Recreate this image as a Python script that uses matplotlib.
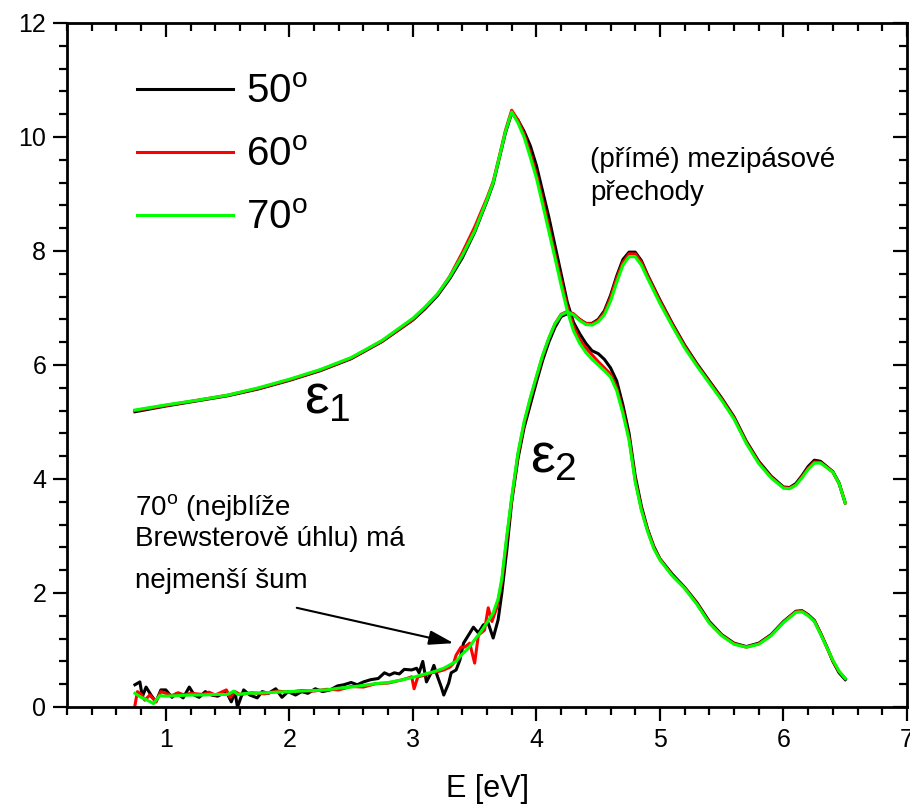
import matplotlib
matplotlib.use("Agg")
import matplotlib.pyplot as plt
import numpy as np

plt.rcParams['font.family'] = ['Liberation Sans', 'DejaVu Sans']
plt.rcParams['mathtext.fontset'] = 'custom'
plt.rcParams['mathtext.rm'] = 'Liberation Sans'
plt.rcParams['mathtext.it'] = 'Liberation Sans'
plt.rcParams['mathtext.bf'] = 'Liberation Sans:bold'

# eps1 - spolecna mrizka energii
e1_E = [0.75, 1.0, 1.25, 1.5, 1.75, 2.0, 2.25, 2.5, 2.75, 3.0,
        3.1, 3.2, 3.3, 3.4, 3.5, 3.6, 3.65, 3.7, 3.75, 3.8,
        3.85, 3.9, 3.95, 4.0, 4.05, 4.1, 4.15, 4.2, 4.25, 4.3,
        4.35, 4.4, 4.45, 4.5, 4.55, 4.6, 4.65, 4.7, 4.75, 4.8,
        4.85, 4.9, 4.95, 5.0, 5.1, 5.2, 5.3, 5.4, 5.5, 5.6,
        5.7, 5.8, 5.9, 6.0, 6.1, 6.15, 6.2, 6.25, 6.3, 6.35,
        6.4, 6.45, 6.5]
e1_70 = [5.21, 5.30, 5.38, 5.47, 5.60, 5.75, 5.92, 6.13, 6.43, 6.82,
         7.02, 7.25, 7.55, 7.92, 8.35, 8.90, 9.20, 9.65, 10.10, 10.44,
         10.25, 10.00, 9.65, 9.28, 8.82, 8.35, 7.88, 7.40, 6.95, 6.60,
         6.38, 6.22, 6.10, 6.00, 5.90, 5.79, 5.55, 5.15, 4.68, 3.95,
         3.45, 3.08, 2.78, 2.58, 2.30, 2.08, 1.80, 1.47, 1.25, 1.10,
         1.05, 1.10, 1.25, 1.48, 1.66, 1.67, 1.60, 1.50, 1.28, 1.05,
         0.82, 0.63, 0.50]
e1_60 = [5.20, 5.29, 5.38, 5.47, 5.59, 5.74, 5.91, 6.12, 6.42, 6.80,
         7.01, 7.24, 7.56, 7.97, 8.42, 8.93, 9.22, 9.66, 10.12, 10.47,
         10.30, 10.05, 9.72, 9.35, 8.90, 8.43, 7.95, 7.48, 7.02, 6.68,
         6.45, 6.30, 6.18, 6.06, 5.95, 5.84, 5.60, 5.20, 4.72, 3.98,
         3.47, 3.10, 2.80, 2.59, 2.31, 2.09, 1.81, 1.48, 1.26, 1.11,
         1.05, 1.11, 1.26, 1.49, 1.67, 1.68, 1.61, 1.51, 1.29, 1.05,
         0.81, 0.62, 0.50]
e1_50 = [5.18, 5.28, 5.37, 5.46, 5.58, 5.73, 5.90, 6.11, 6.41, 6.79,
         6.99, 7.22, 7.52, 7.88, 8.33, 8.88, 9.18, 9.63, 10.08, 10.42,
         10.30, 10.10, 9.85, 9.50, 9.05, 8.60, 8.10, 7.60, 7.10, 6.75,
         6.55, 6.38, 6.25, 6.20, 6.10, 5.95, 5.72, 5.30, 4.80, 4.05,
         3.52, 3.12, 2.82, 2.60, 2.33, 2.10, 1.83, 1.50, 1.27, 1.12,
         1.06, 1.12, 1.27, 1.50, 1.68, 1.69, 1.62, 1.52, 1.30, 1.06,
         0.80, 0.60, 0.48]

# eps2 - nizke energie (sum)
e2lo_E_70 = [0.75, 0.8, 0.85, 0.9, 0.95, 1.0, 1.1, 1.2, 1.3, 1.4,
             1.5, 1.55, 1.58, 1.65, 1.8, 1.9, 2.0, 2.1, 2.2, 2.3,
             2.4, 2.5, 2.6, 2.7, 2.8, 2.9, 3.0, 3.1, 3.17, 3.25,
             3.3, 3.35, 3.4, 3.45, 3.5, 3.55, 3.6, 3.65, 3.69]
e2lo_70 = [0.24, 0.17, 0.12, 0.06, 0.20, 0.19, 0.20, 0.21, 0.21, 0.22,
           0.22, 0.28, 0.22, 0.24, 0.25, 0.26, 0.27, 0.28, 0.29, 0.30,
           0.33, 0.35, 0.38, 0.41, 0.43, 0.47, 0.52, 0.58, 0.62, 0.68,
           0.74, 0.80, 0.93, 1.03, 1.18, 1.32, 1.48, 1.65, 1.90]
e2lo_E_60 = [0.75, 0.77, 0.8, 0.83, 0.87, 0.92, 0.96, 1.0, 1.05, 1.1,
             1.15, 1.2, 1.3, 1.35, 1.4, 1.49, 1.52, 1.56, 1.6, 1.7,
             1.8, 1.9, 2.0, 2.1, 2.2, 2.3, 2.4, 2.5, 2.6, 2.7,
             2.8, 2.9, 2.95, 2.99, 3.01, 3.04, 3.1, 3.15, 3.2, 3.25,
             3.3, 3.33, 3.35, 3.39, 3.42, 3.46, 3.5, 3.53, 3.58, 3.61,
             3.64, 3.68]
e2lo_60 = [0.03, 0.27, 0.22, 0.12, 0.21, 0.09, 0.27, 0.24, 0.20, 0.25,
           0.21, 0.24, 0.22, 0.26, 0.21, 0.30, 0.17, 0.27, 0.22, 0.25,
           0.23, 0.28, 0.26, 0.29, 0.28, 0.31, 0.30, 0.36, 0.35, 0.41,
           0.42, 0.47, 0.50, 0.53, 0.32, 0.53, 0.56, 0.60, 0.62, 0.65,
           0.70, 0.77, 0.91, 1.05, 1.05, 1.12, 0.77, 1.26, 1.35, 1.74,
           1.50, 1.75]
e2lo_E_50 = [0.75, 0.79, 0.81, 0.84, 0.88, 0.92, 0.96, 1.0, 1.05, 1.09,
             1.14, 1.19, 1.23, 1.27, 1.32, 1.37, 1.42, 1.49, 1.53, 1.56,
             1.58, 1.63, 1.68, 1.74, 1.78, 1.83, 1.89, 1.94, 1.99, 2.05,
             2.10, 2.15, 2.21, 2.27, 2.33, 2.39, 2.44, 2.50, 2.55, 2.60,
             2.66, 2.72, 2.77, 2.81, 2.85, 2.89, 2.93, 2.99, 3.03, 3.05,
             3.08, 3.11, 3.15, 3.17, 3.20, 3.23, 3.25, 3.29, 3.31, 3.35,
             3.38, 3.41, 3.45, 3.49, 3.53, 3.57, 3.61, 3.65, 3.69]
e2lo_50 = [0.39, 0.44, 0.18, 0.35, 0.21, 0.09, 0.30, 0.30, 0.17, 0.24,
           0.16, 0.35, 0.21, 0.17, 0.27, 0.21, 0.19, 0.27, 0.09, 0.26,
           0.00, 0.30, 0.21, 0.16, 0.27, 0.24, 0.32, 0.17, 0.27, 0.21,
           0.27, 0.24, 0.32, 0.27, 0.30, 0.37, 0.39, 0.43, 0.39, 0.44,
           0.48, 0.50, 0.60, 0.56, 0.60, 0.58, 0.66, 0.65, 0.68, 0.60,
           0.80, 0.44, 0.61, 0.73, 0.53, 0.35, 0.21, 0.42, 0.60, 0.65,
           0.82, 1.12, 1.26, 1.40, 1.30, 1.44, 1.47, 1.21, 1.53]

# eps2 - vysoke energie
e2hi_E = [3.72, 3.76, 3.8, 3.85, 3.9, 3.95, 4.0, 4.05, 4.1, 4.15,
          4.2, 4.25, 4.3, 4.35, 4.4, 4.45, 4.5, 4.55, 4.6, 4.65,
          4.7, 4.75, 4.8, 4.85, 4.9, 5.0, 5.1, 5.2, 5.3, 5.4,
          5.5, 5.6, 5.7, 5.8, 5.9, 6.0, 6.05, 6.1, 6.15, 6.2,
          6.25, 6.3, 6.35, 6.4, 6.45, 6.5]
e2hi_70 = [2.25, 3.00, 3.68, 4.45, 5.00, 5.42, 5.80, 6.17, 6.47, 6.72,
           6.88, 6.93, 6.88, 6.78, 6.71, 6.70, 6.76, 6.88, 7.12, 7.45,
           7.75, 7.90, 7.90, 7.75, 7.52, 7.08, 6.68, 6.30, 5.98, 5.68,
           5.38, 5.05, 4.62, 4.27, 4.02, 3.84, 3.83, 3.89, 4.02, 4.17,
           4.28, 4.28, 4.20, 4.12, 3.92, 3.58]
e2hi_60 = [2.20, 2.95, 3.65, 4.42, 4.97, 5.40, 5.78, 6.15, 6.46, 6.72,
           6.89, 6.94, 6.90, 6.80, 6.73, 6.72, 6.78, 6.92, 7.18, 7.52,
           7.80, 7.95, 7.95, 7.80, 7.56, 7.12, 6.71, 6.33, 6.00, 5.70,
           5.40, 5.07, 4.64, 4.29, 4.03, 3.85, 3.84, 3.90, 4.04, 4.19,
           4.30, 4.29, 4.21, 4.12, 3.92, 3.58]
e2hi_50 = [2.00, 2.75, 3.60, 4.35, 4.90, 5.30, 5.70, 6.08, 6.40, 6.66,
           6.85, 6.90, 6.88, 6.80, 6.73, 6.73, 6.80, 6.95, 7.22, 7.56,
           7.85, 7.98, 7.98, 7.83, 7.58, 7.14, 6.73, 6.35, 6.02, 5.72,
           5.42, 5.09, 4.66, 4.31, 4.05, 3.86, 3.85, 3.92, 4.06, 4.22,
           4.33, 4.31, 4.22, 4.13, 3.93, 3.58]

angles = ['50', '60', '70']
colors = ['#000000', '#ff0000', '#00ff00']
e1_all = [e1_50, e1_60, e1_70]
e2_E_all = [e2lo_E_50 + e2hi_E, e2lo_E_60 + e2hi_E, e2lo_E_70 + e2hi_E]
e2_all = [e2lo_50 + e2hi_50, e2lo_60 + e2hi_60, e2lo_70 + e2hi_70]

fig = plt.figure(figsize=(9.1, 8.07), dpi=100)
ax = fig.add_axes([67/910, 1 - 707/807, 840/910, 684/807])

handles = []
for a, c, y1, x2, y2 in zip(angles, colors, e1_all, e2_E_all, e2_all):
    h, = ax.plot(e1_E, y1, color=c, lw=2.2, label=a + r'$^{\mathrm{o}}$')
    ax.plot(x2, y2, color=c, lw=2.2)
    handles.append(h)

ax.set_xlim(0.2, 7)
ax.set_ylim(0, 12)
ax.set_xticks(range(1, 8))
ax.set_xticks(np.arange(0.2, 7.01, 0.2), minor=True)
ax.set_yticks(range(0, 13, 2))
ax.set_yticks(np.arange(0, 12.01, 0.4), minor=True)
ax.tick_params(which='major', direction='out', length=10, width=1.6,
               labelsize=18, pad=5)
ax.tick_params(which='minor', direction='out', length=5.5, width=1.6)
for s in ax.spines.values():
    s.set_linewidth(2)

# horni a prava osa - carky dovnitr
sx = ax.secondary_xaxis('top')
sx.set_xticks(range(1, 8))
sx.set_xticks(np.arange(0.2, 7.01, 0.2), minor=True)
sx.tick_params(which='major', direction='in', length=10, width=1.6, labeltop=False)
sx.tick_params(which='minor', direction='in', length=5.5, width=1.6)
sy = ax.secondary_yaxis('right')
sy.set_yticks(range(0, 13, 2))
sy.set_yticks(np.arange(0, 12.01, 0.4), minor=True)
sy.tick_params(which='major', direction='in', length=10, width=1.6, labelright=False)
sy.tick_params(which='minor', direction='in', length=5.5, width=1.6)

ax.set_xlabel('E [eV]', fontsize=22, labelpad=16)

ax.legend(handles=handles, loc='upper left', bbox_to_anchor=(0.083, 0.927),
          frameon=False, fontsize=29, handlelength=2.4, handletextpad=0.32,
          labelspacing=0.62, borderpad=0, borderaxespad=0)

ax.text(4.435, 9.47, '(přímé) mezipásové', fontsize=20, va='baseline')
ax.text(4.435, 8.89, 'přechody', fontsize=20, va='baseline')
ax.text(0.75, 3.37, '70$^{\\mathrm{o}}$ (nejblíže', fontsize=20, va='baseline')
ax.text(0.75, 2.82, 'Brewsterově úhlu) má', fontsize=20, va='baseline')
ax.text(0.75, 2.09, 'nejmenší šum', fontsize=20, va='baseline')
ax.text(2.12, 5.16, r'$\varepsilon_1$', fontsize=40, va='baseline')
ax.text(3.95, 4.11, r'$\varepsilon_2$', fontsize=40, va='baseline')

ax.annotate('', xy=(3.33, 1.12), xytext=(2.06, 1.74),
            arrowprops=dict(arrowstyle='-|>,head_length=0.75,head_width=0.22',
                            mutation_scale=20, color='black', lw=1.5,
                            shrinkA=0, shrinkB=0))

plt.savefig('out.png', dpi=100)
plt.close()
